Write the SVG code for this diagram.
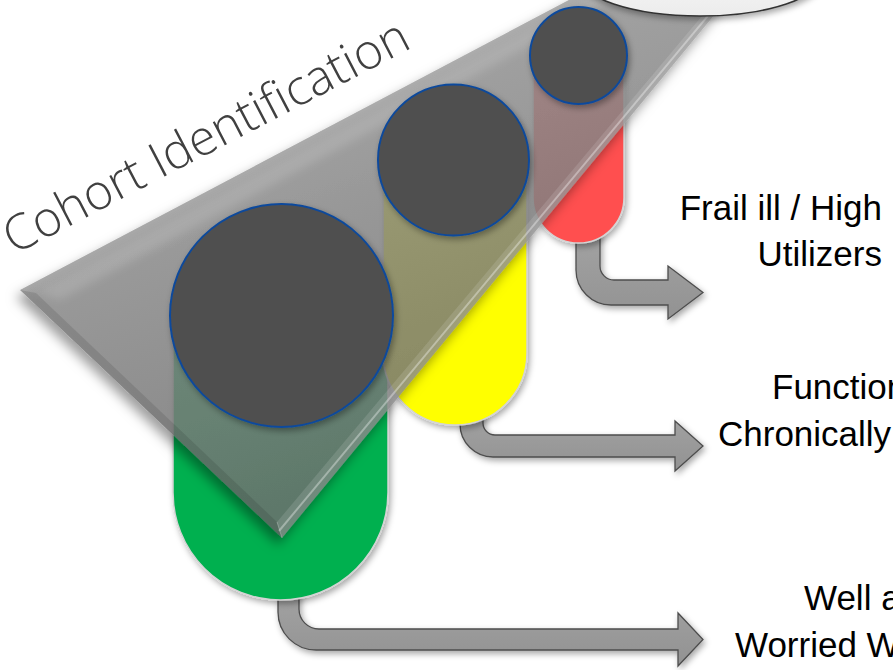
<svg xmlns="http://www.w3.org/2000/svg" width="893" height="670" viewBox="0 0 893 670">
<defs>
  <filter id="sh" x="-20%" y="-20%" width="140%" height="140%">
    <feDropShadow dx="2" dy="3" stdDeviation="3" flood-color="#000" flood-opacity="0.35"/>
  </filter>
  <filter id="tsh" x="-20%" y="-20%" width="140%" height="140%">
    <feDropShadow dx="-4" dy="7" stdDeviation="6" flood-color="#000" flood-opacity="0.5"/>
  </filter>
  <filter id="soft" x="-10%" y="-10%" width="120%" height="120%">
    <feGaussianBlur stdDeviation="4"/>
  </filter>
  <linearGradient id="triG" gradientUnits="userSpaceOnUse" x1="300" y1="120" x2="420" y2="470">
    <stop offset="0" stop-color="#979797"/>
    <stop offset="1" stop-color="#747474"/>
  </linearGradient>
  <linearGradient id="ellG" x1="0" y1="0" x2="0" y2="1">
    <stop offset="0" stop-color="#ffffff"/>
    <stop offset="1" stop-color="#ececec"/>
  </linearGradient>
  <linearGradient id="arrG" x1="0" y1="0" x2="0" y2="1">
    <stop offset="0" stop-color="#a3a3a3"/>
    <stop offset="1" stop-color="#929292"/>
  </linearGradient>
</defs>
<style>
  .arrow{fill:url(#arrG);stroke:#4d4d4d;stroke-width:1.3;filter:url(#sh)}
  .pill{stroke:#d4d4d4;stroke-width:1.5;filter:url(#sh)}
  .dot{fill:#505050;stroke:#0d4a9c;stroke-width:2;filter:url(#sh)}
  .lbl{font-family:"Liberation Sans",Arial,sans-serif;font-size:35px;fill:#000}
</style>

<g id="connectors">
  <path class="arrow" d="M 576 232 L 576 270 A 35 35 0 0 0 611 305 L 668 305 L 668 319 L 703 292.5 L 668 266 L 668 280 L 614 280 A 14 14 0 0 1 600 266 L 600 232 Z"/>
  <path class="arrow" d="M 460 412 L 460 424 A 33 33 0 0 0 493 457 L 675 457 L 675 471 L 703 446 L 675 421 L 675 435 L 495 435 A 12 12 0 0 1 483 423 L 483 412 Z"/>
  <path class="arrow" d="M 278 590 L 278 612 A 38 38 0 0 0 316 650 L 678 650 L 678 666 L 703 639.5 L 678 613 L 678 629 L 319 629 A 20 20 0 0 1 299 609 L 299 590 Z"/>
</g>

<g id="pill-green"><rect class="pill" x="173" y="204" width="215" height="396" rx="107.5" fill="#00b050"/></g>
<g id="pill-yellow"><rect class="pill" x="383" y="88" width="144" height="337" rx="72" fill="#ffff00"/></g>
<g id="pill-red"><rect class="pill" x="533" y="10" width="91" height="233" rx="45.5" fill="#ff5050"/></g>

<g id="funnel">
  <polygon points="20,290 282,538 849,-148" fill="url(#triG)" fill-opacity="0.76" filter="url(#tsh)"/>
  <polygon points="36,292 849,-140 849,-128 60,300" fill="#ffffff" fill-opacity="0.14" filter="url(#soft)"/>
  <polygon points="282,538 849,-148 838,-146 277,522" fill="#ffffff" fill-opacity="0.12"/>
  <line x1="279" y1="531" x2="846" y2="-150" stroke="#ffffff" stroke-opacity="0.35" stroke-width="2"/>
  <polygon points="20,290 282,538 277,522 36,293" fill="#000000" fill-opacity="0.10"/>
  <line x1="282" y1="538" x2="277" y2="522" stroke="#ffffff" stroke-opacity="0.25" stroke-width="1"/>
</g>

<g id="top-ellipse"><ellipse cx="700" cy="-25" rx="122" ry="41" fill="url(#ellG)" stroke="#333333" stroke-width="1.5" filter="url(#sh)"/></g>

<g id="dot-green"><circle class="dot" cx="281.5" cy="315.5" r="111.5"/></g>
<g id="dot-yellow"><circle class="dot" cx="453.5" cy="160" r="75.5"/></g>
<g id="dot-red"><circle class="dot" cx="578.5" cy="55.5" r="48.5"/></g>

<g id="title"><text x="14" y="255" transform="rotate(-27.5 14 255)" font-family="'Open Sans','Liberation Sans',sans-serif" font-weight="300" font-size="49" fill="#404040">Cohort Identification</text></g>

<g id="label-red">
  <text class="lbl" text-anchor="end" x="882" y="220">Frail ill / High</text>
  <text class="lbl" text-anchor="end" x="882" y="266">Utilizers</text>
</g>
<g id="label-yellow">
  <text class="lbl" x="772" y="399">Function</text>
  <text class="lbl" x="718" y="446">Chronically</text>
</g>
<g id="label-green">
  <text class="lbl" x="804" y="610">Well a</text>
  <text class="lbl" x="735" y="657">Worried W</text>
</g>
</svg>
